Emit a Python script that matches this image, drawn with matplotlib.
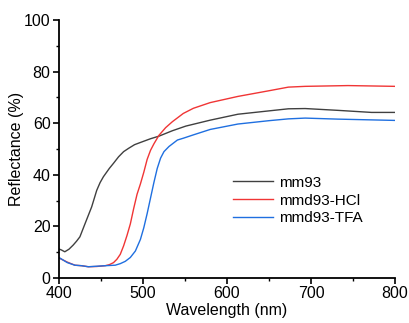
import numpy as np
import matplotlib.pyplot as plt

plt.rcParams['font.family'] = ['Liberation Sans', 'DejaVu Sans']

# mm93
wl_a = [400, 403, 407, 412, 417, 421, 425, 431, 435, 439, 445, 449, 453, 460,
        465, 471, 477, 483, 490, 499, 509, 519, 535, 551, 580, 613, 650, 673,
        693, 732, 772, 800]
r_a = [11.3, 10.9, 10.2, 11.2, 12.8, 14.3, 16.0, 21.0, 24.3, 27.6, 34.0, 37.0,
       39.3, 42.5, 44.5, 47.0, 49.0, 50.3, 51.7, 52.8, 54.0, 55.0, 57.1, 58.9,
       61.2, 63.5, 64.8, 65.6, 65.7, 65.0, 64.2, 64.2]

# mmd93-HCl
wl_b = [400, 405, 410, 419, 427, 435, 445, 455, 460, 465, 469, 473, 477, 481,
        485, 489, 493, 497, 501, 505, 509, 513, 519, 527, 535, 548, 560, 580,
        613, 650, 673, 693, 744, 800]
r_b = [7.8, 7.0, 6.2, 5.0, 4.8, 4.4, 4.5, 4.8, 5.2, 6.0, 7.3, 9.2, 12.5, 16.5,
       21.0, 27.0, 32.5, 36.5, 41.0, 46.0, 49.5, 52.0, 55.3, 58.3, 60.6, 63.8,
       65.8, 68.0, 70.4, 72.6, 74.0, 74.3, 74.6, 74.3]

# mmd93-TFA
wl_c = [400, 405, 410, 419, 427, 435, 445, 455, 467, 473, 479, 485, 491, 497,
        501, 505, 509, 513, 517, 521, 525, 531, 541, 548, 560, 580, 613, 650,
        673, 693, 732, 800]
r_c = [8.0, 7.0, 6.0, 5.0, 4.8, 4.4, 4.6, 4.8, 5.0, 5.6, 6.5, 8.0, 10.5, 15.0,
       19.5, 25.0, 31.0, 37.0, 42.5, 46.5, 49.0, 51.0, 53.5, 54.2, 55.5, 57.6,
       59.7, 61.0, 61.7, 62.0, 61.6, 61.1]

fig = plt.figure(figsize=(4.09, 3.23), dpi=100)
ax = fig.add_axes([0.144, 0.139, 0.822, 0.799])

ax.plot(wl_a, r_a, color='#404040', lw=1.0, label='mm93')
ax.plot(wl_b, r_b, color='#f03535', lw=1.0, label='mmd93-HCl')
ax.plot(wl_c, r_c, color='#1f6fe0', lw=1.0, label='mmd93-TFA')

ax.set_xlim(400, 800)
ax.set_ylim(0, 100)
ax.set_xticks([400, 500, 600, 700, 800])
ax.set_xticks([450, 550, 650, 750], minor=True)
ax.set_yticks([0, 20, 40, 60, 80, 100])
ax.set_yticks([10, 30, 50, 70, 90], minor=True)

for s in ['top', 'right']:
    ax.spines[s].set_visible(False)
for s in ['left', 'bottom']:
    ax.spines[s].set_linewidth(1.3)

ax.tick_params(which='major', direction='out', length=4, width=1.2, labelsize=11.5, pad=2)
ax.tick_params(which='minor', direction='out', length=2.5, width=1.0)

ax.set_xlabel('Wavelength (nm)', fontsize=11.5, labelpad=1)
ax.set_ylabel('Reflectance (%)', fontsize=11.5, labelpad=0)

ax.legend(loc='upper left', bbox_to_anchor=(0.5, 0.42), frameon=False,
          fontsize=11, handlelength=2.6, handletextpad=0.4, labelspacing=0.25,
          borderaxespad=0)

fig.savefig('out.png', dpi=100)
